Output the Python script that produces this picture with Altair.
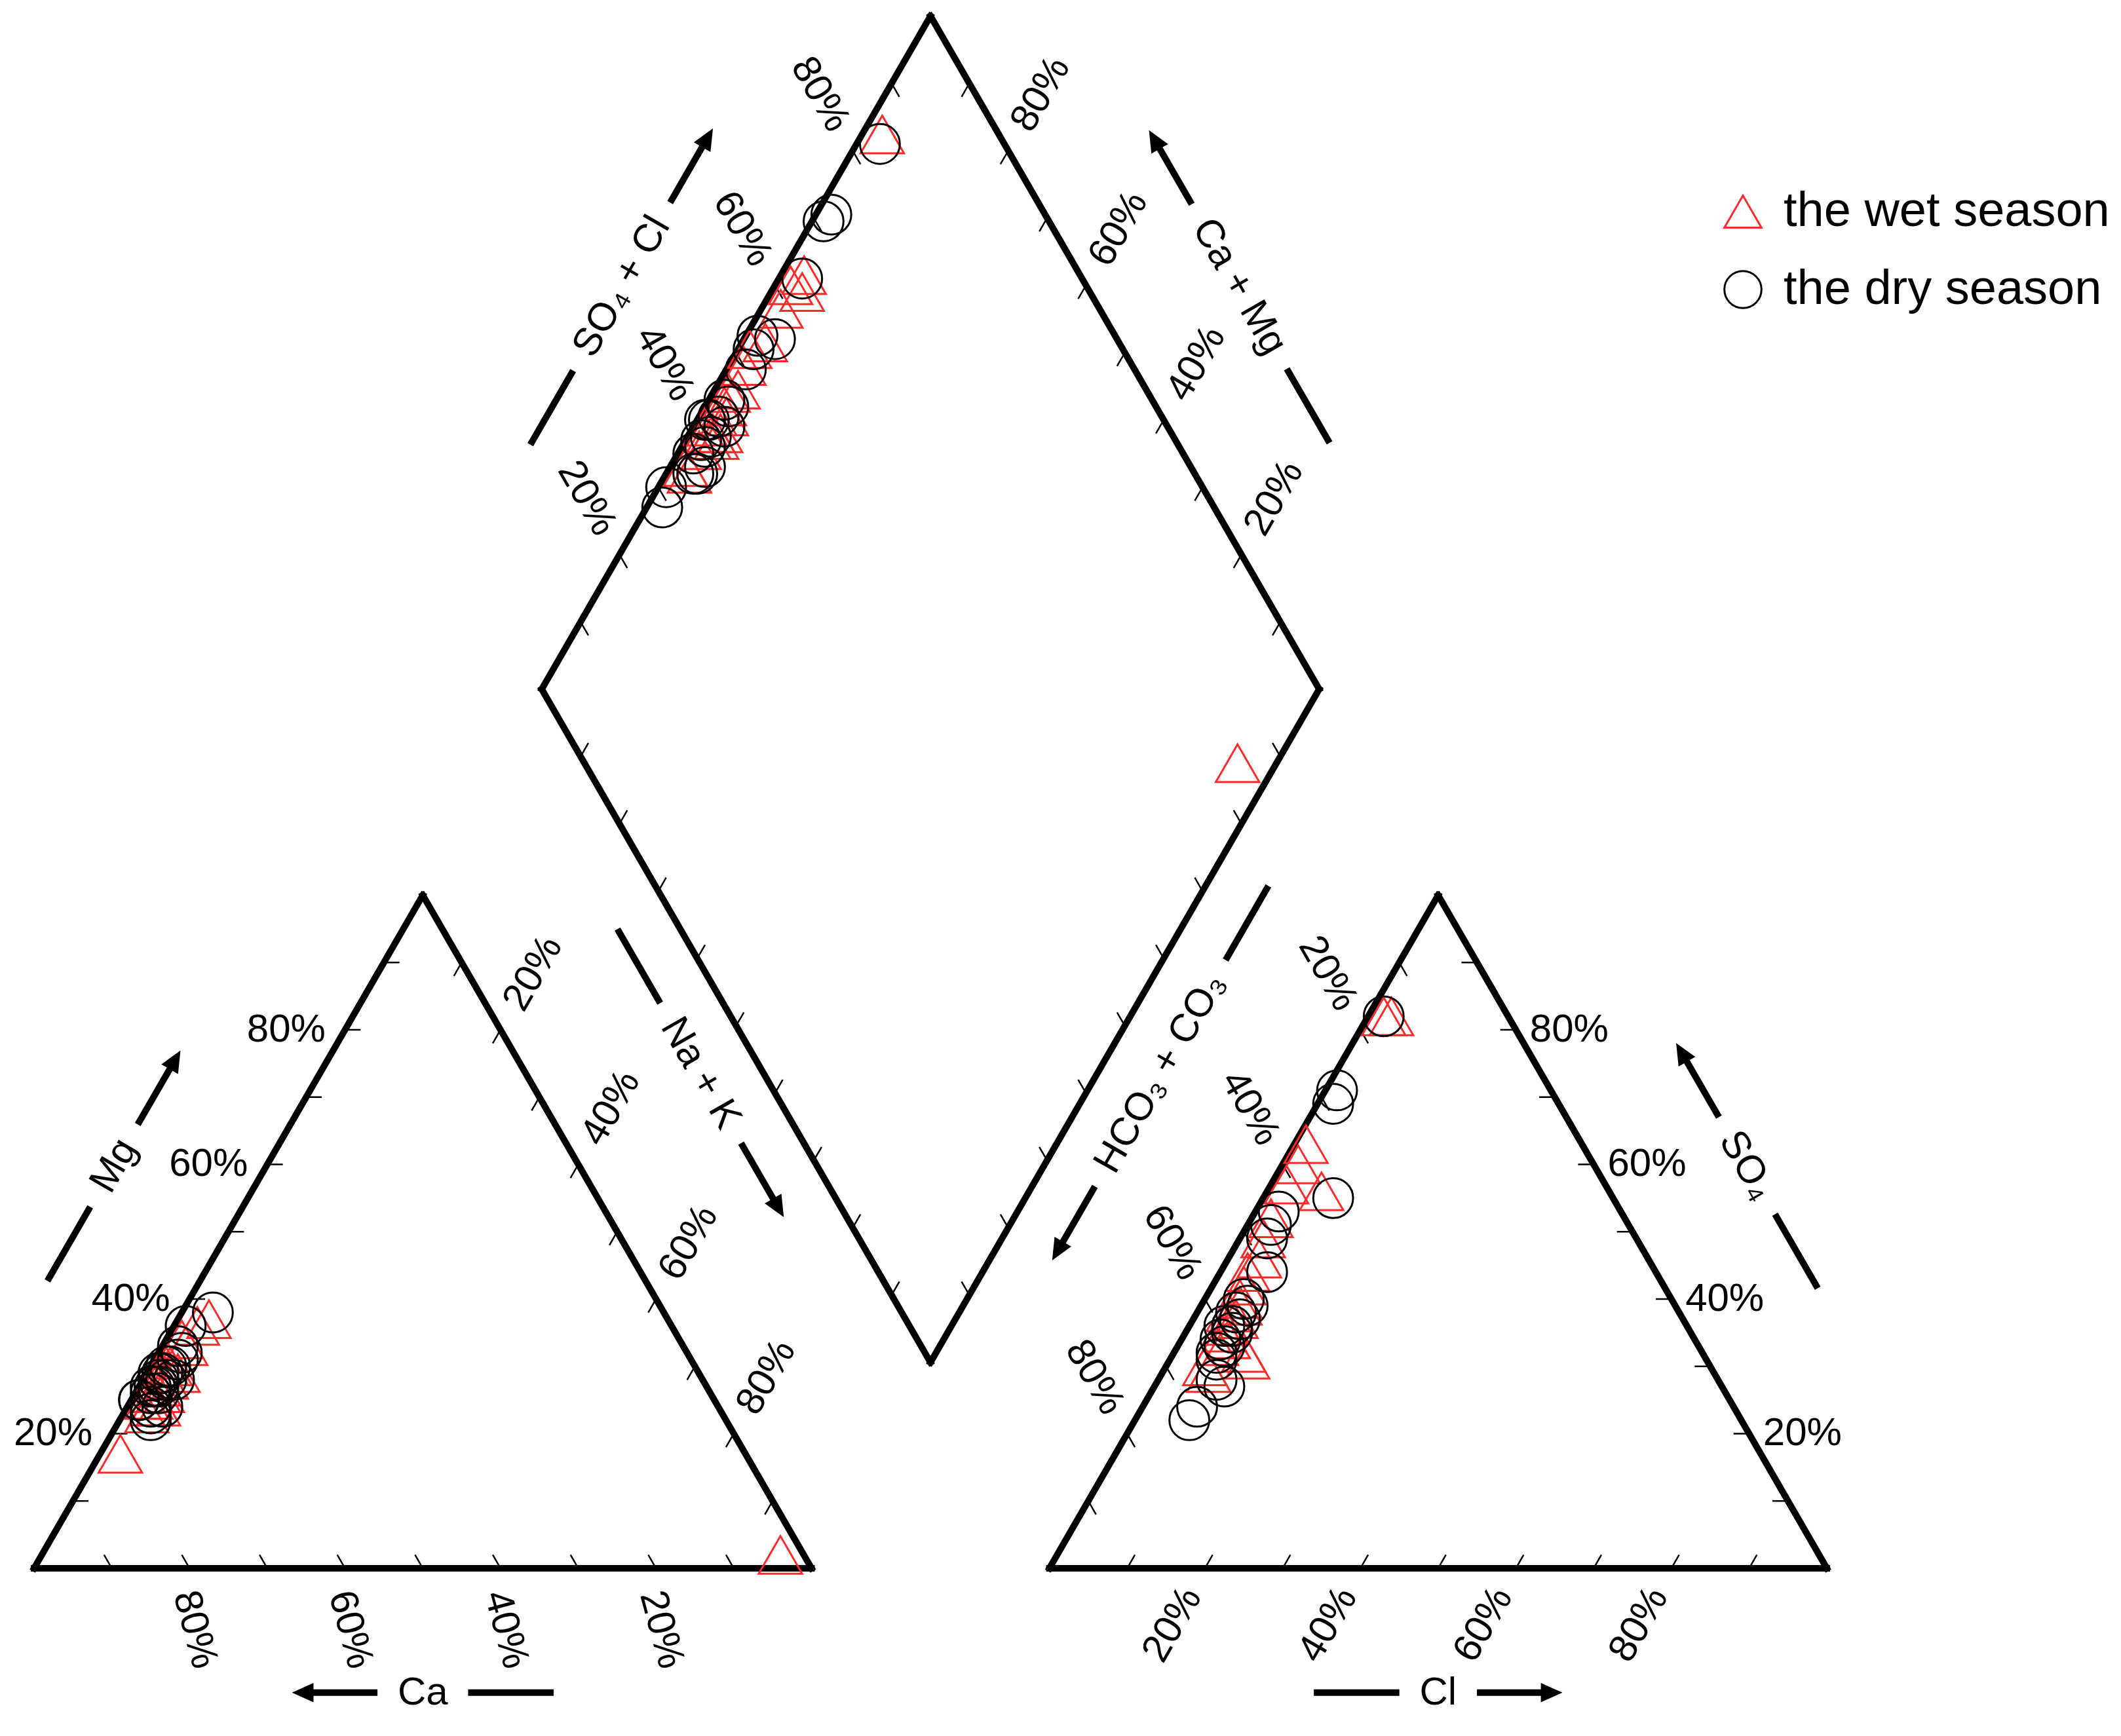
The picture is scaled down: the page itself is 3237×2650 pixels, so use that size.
import math
import pandas as pd
import altair as alt

# ---------------- data (percent of meq) ----------------
SEASONS = ["the wet season", "the dry season"]

wet_mg  = [17, 2, 36, 34, 30, 37, 33, 31, 29, 28, 30, 27, 26, 29, 25, 28, 24, 27, 25, 26, 24, 26, 23]
wet_nak = [2.6, 95, 3, 2, 2.5, 4, 3, 1.5, 2, 3, 2, 2.5, 3.5, 4, 2, 1.5, 3, 2, 2.5, 3, 4, 2, 3]
wet_so4 = [82, 82, 63, 60, 57, 56, 52, 49, 46, 44, 42, 40, 39, 38, 37, 36, 35, 34, 33, 32, 31, 30, 29]
wet_cl  = [3, 2, 1.5, 2, 2, 7, 2.5, 3, 4, 3.5, 4, 4.5, 5, 4, 5.5, 4.5, 5, 6, 5, 9, 10, 5, 6]

dry_mg  = [24, 28, 27, 31, 38, 36, 33, 30, 29, 32, 28, 27, 29, 26, 25, 30, 28, 24, 26, 23, 22, 25, 27]
dry_nak = [3, 2, 1.5, 3, 4, 1.5, 2, 2.5, 2, 3, 4, 2.5, 1.5, 3, 1, 2, 3, 4.5, 2, 3.5, 4, 1, 2]
dry_so4 = [82, 71, 69, 55, 53, 51, 49, 44, 40, 39, 38, 37, 36, 36, 35, 34, 33, 32, 31, 28, 27, 24, 22]
dry_cl  = [2, 1.5, 2, 9, 3, 3, 3.5, 6, 5, 6, 5, 6, 5.5, 4.5, 6, 5, 6, 5.5, 6, 7.5, 9, 7, 7]

TICK_VALUES = [10, 20, 30, 40, 50, 60, 70, 80, 90]
LABEL_VALUES = [20, 40, 60, 80]
LABEL_TEXT = ["20%", "40%", "60%", "80%"]

# ---------------- geometry ----------------
G = 30.6
H3 = math.sqrt(3) / 2
UNIT = 11.865
OX, OY = 52.0, 2394.0
W_PX, H_PX = 3221, 2620
XMIN = -(OX - 8) / UNIT
XMAX = XMIN + W_PX / UNIT
YMAX = (OY - 8) / UNIT
YMIN = YMAX - H_PX / UNIT

FONT = "Liberation Sans"
FS = 60
LINE_W = 10
RED = "#ff2a2a"


def cat_xy(mg, nak):
    return (nak + mg / 2.0, mg * H3)


def an_xy(so4, cl):
    return (100 + G + cl + so4 / 2.0, so4 * H3)


LX, LY = 50 + G / 2.0, (100 + G) * H3


def dia_xy(nak, s):
    return (LX + (s + nak) / 2.0, LY + (s - nak) * H3)


# ---------------- points ----------------
rows = []
for season, mg, nak, so4, cl in [
    (SEASONS[0], wet_mg, wet_nak, wet_so4, wet_cl),
    (SEASONS[1], dry_mg, dry_nak, dry_so4, dry_cl),
]:
    sz = 4400 if season == SEASONS[0] else 3700
    for i in range(len(mg)):
        for (px, py) in (cat_xy(mg[i], nak[i]), an_xy(so4[i], cl[i]),
                         dia_xy(nak[i], so4[i] + cl[i])):
            rows.append({"x": px, "y": py, "season": season, "sz": sz})
pts = pd.DataFrame(rows)

# ---------------- frames ----------------
C0, C1, C2 = cat_xy(0, 0), cat_xy(0, 100), cat_xy(100, 0)
A0, A1, A2 = an_xy(0, 0), an_xy(0, 100), an_xy(100, 0)
DL, DT, DR, DB = dia_xy(0, 0), dia_xy(0, 100), dia_xy(100, 100), dia_xy(100, 0)
segs = []
for poly in ([C0, C1, C2], [A0, A1, A2], [DL, DT, DR, DB]):
    for i in range(len(poly)):
        a, b = poly[i], poly[(i + 1) % len(poly)]
        segs.append({"x": a[0], "y": a[1], "x2": b[0], "y2": b[1]})
frame = pd.DataFrame(segs)

# ---------------- ticks ----------------
TL = 2.0
tick_defs = [
    (lambda t: cat_xy(0, 100 - t), (-0.5, H3)),
    (lambda t: cat_xy(t, 0), (1.0, 0.0)),
    (lambda t: cat_xy(100 - t, t), (-0.5, -H3)),
    (lambda t: an_xy(0, t), (0.5, H3)),
    (lambda t: an_xy(t, 100 - t), (-1.0, 0.0)),
    (lambda t: an_xy(100 - t, 0), (0.5, -H3)),
    (lambda t: dia_xy(0, t), (0.5, -H3)),
    (lambda t: dia_xy(t, 100), (-0.5, -H3)),
    (lambda t: dia_xy(t, 0), (0.5, H3)),
    (lambda t: dia_xy(100, t), (-0.5, H3)),
]
trows = []
for f, d in tick_defs:
    for t in TICK_VALUES:
        p = f(t)
        trows.append({"x": p[0], "y": p[1], "x2": p[0] + TL * d[0], "y2": p[1] + TL * d[1]})
ticks = pd.DataFrame(trows)

# ---------------- tick labels ----------------
# (position on edge, offset vector in units, angle, align)
label_defs = [
    (lambda v: cat_xy(v, 0), (-2.5, 0.0), 0, "right"),
    (lambda v: cat_xy(0, 100 - v), (-0.6, -3.0), 75, "left"),
    (lambda v: cat_xy(100 - v, v), (1.65, 2.86), 300, "left"),
    (lambda v: an_xy(100 - v, 0), (-1.65, 2.86), 60, "right"),
    (lambda v: an_xy(0, v), (-1.65, -2.86), 300, "right"),
    (lambda v: an_xy(v, 100 - v), (1.8, 0.0), 0, "left"),
    (lambda v: dia_xy(0, v), (-1.65, 2.86), 60, "right"),
    (lambda v: dia_xy(100 - v, 100), (1.65, 2.86), 300, "left"),
]
lrows = []
for f, d, ang, al in label_defs:
    for v, txt in zip(LABEL_VALUES, LABEL_TEXT):
        p = f(v)
        lrows.append({"x": p[0] + d[0], "y": p[1] + d[1],
                      "text": txt, "angle": ang, "align": al})
labels = pd.DataFrame(lrows)

# ---------------- axis titles with dash and arrow ----------------
CW = {'C': 0.722, 'a': 0.556, 'M': 0.833, 'g': 0.556, 'S': 0.667, 'O': 0.778,
      '+': 0.584, ' ': 0.278, 'l': 0.222, 'N': 0.722, 'K': 0.667, 'H': 0.722,
      '\u2084': 0.38, '\u2083': 0.38}


def half_width(s):
    return sum(CW.get(ch, 0.556) for ch in s) * FS / UNIT / 2.0


def add(p, d, k):
    return (p[0] + d[0] * k, p[1] + d[1] * k)


title_defs = [
    ("Ca", (50.0, -16.0), (-1.0, 0.0), 0),
    ("Cl", (150.0 + G, -16.0), (1.0, 0.0), 0),
    ("Mg", add(cat_xy(50, 0), (-H3, 0.5), 17), (0.5, H3), 300),
    ("SO\u2084", add(an_xy(50, 50), (H3, 0.5), 17), (-0.5, H3), 60),
    ("SO\u2084 + Cl", add(dia_xy(0, 50), (-H3, 0.5), 17), (0.5, H3), 300),
    ("Ca + Mg", add(dia_xy(50, 100), (H3, 0.5), 17), (-0.5, H3), 60),
    ("Na + K", add(dia_xy(53, 0), (-H3, -0.5), 7), (0.5, -H3), 60),
    ("HCO\u2083 + CO\u2083", add(dia_xy(100, 47), (H3, -0.5), 7), (-0.5, -H3), 300),
]
HEAD_SIZE = 1200
HEAD_R = math.sqrt(HEAD_SIZE) / 2 / UNIT
trow, drow, hrow = [], [], []
for txt, c, e, ang in title_defs:
    hw = half_width(txt)
    s0, s1 = hw + 2.6, hw + 2.6 + 11.0
    a = add(c, e, -s0)
    b = add(c, e, -s1)
    drow.append({"x": a[0], "y": a[1], "x2": b[0], "y2": b[1]})
    a = add(c, e, s0)
    hc = add(c, e, s1 - HEAD_R)
    drow.append({"x": a[0], "y": a[1], "x2": hc[0], "y2": hc[1]})
    hang = math.degrees(math.atan2(e[0], e[1])) % 360
    hrow.append({"x": hc[0], "y": hc[1], "angle": hang})
    trow.append({"x": c[0], "y": c[1], "text": txt, "angle": ang})
titles = pd.DataFrame(trow)
dashes = pd.DataFrame(drow)
heads = pd.DataFrame(hrow)

# ---------------- chart ----------------
XS = alt.Scale(domain=[XMIN, XMAX], nice=False, zero=False)
YS = alt.Scale(domain=[YMIN, YMAX], nice=False, zero=False)


def xy():
    return dict(x=alt.X("x:Q", scale=XS, axis=None), y=alt.Y("y:Q", scale=YS, axis=None))


def seg_layer(df, width, cap="square"):
    return alt.Chart(df).mark_rule(color="black", strokeWidth=width, strokeCap=cap).encode(
        x2="x2:Q", y2="y2:Q", **xy())


layers = [
    seg_layer(ticks, 2.5, "butt"),
    seg_layer(frame, LINE_W, "square"),
    seg_layer(dashes, LINE_W, "butt"),
    alt.Chart(heads).mark_point(
        shape="M0,-1L0.85,0.9L-0.85,0.9Z", filled=True, color="black", size=HEAD_SIZE, opacity=1
    ).encode(angle=alt.Angle("angle:Q", scale=None), **xy()),
]

for (ang, al), sub in labels.groupby(["angle", "align"]):
    layers.append(
        alt.Chart(sub).mark_text(font=FONT, fontSize=FS, color="black", align=al,
                                 baseline="middle", angle=int(ang)).encode(text="text:N", **xy()))
for ang, sub in titles.groupby("angle"):
    layers.append(
        alt.Chart(sub).mark_text(font=FONT, fontSize=FS, color="black", align="center",
                                 baseline="middle", angle=int(ang)).encode(text="text:N", **xy()))

leg = dict(title=None, orient="none", legendX=2615, legendY=278, labelFont=FONT,
           labelFontSize=74, labelColor="black", symbolSize=3200, symbolStrokeWidth=3,
           labelOffset=25, rowPadding=45, padding=0, labelLimit=1000)
layers.append(
    alt.Chart(pts).mark_point(filled=False, strokeWidth=3, opacity=1).encode(
        shape=alt.Shape("season:N", scale=alt.Scale(domain=SEASONS, range=["triangle-up", "circle"]),
                        legend=alt.Legend(**leg)),
        color=alt.Color("season:N", scale=alt.Scale(domain=SEASONS, range=[RED, "black"]),
                        legend=alt.Legend(**leg)),
        size=alt.Size("sz:Q", scale=None),
        **xy())
)

chart = alt.layer(*layers).properties(
    width=W_PX, height=H_PX, autosize=alt.AutoSizeParams(type="none"), padding=0
).configure_view(stroke=None)

chart.save("out.html", embed_options={"renderer": "svg", "actions": False})
